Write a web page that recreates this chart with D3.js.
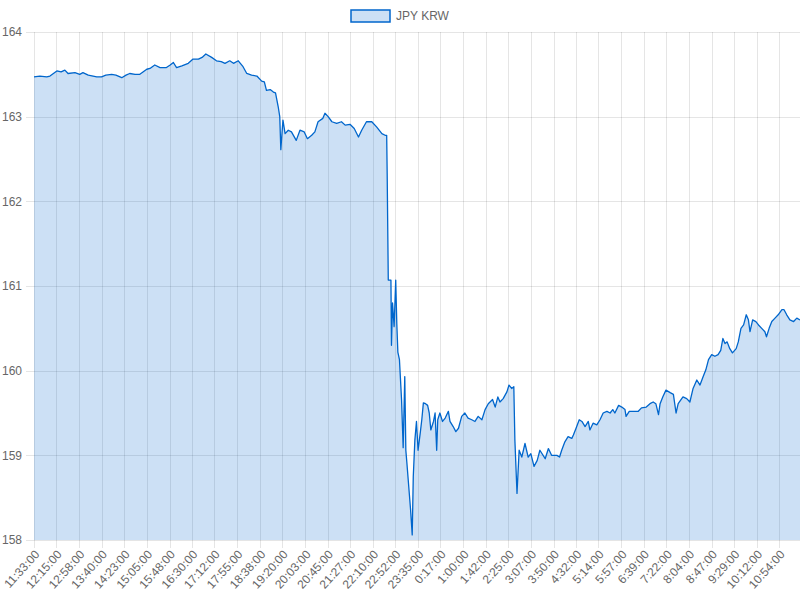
<!DOCTYPE html>
<html>
<head>
<meta charset="utf-8">
<script src="https://cdn.jsdelivr.net/npm/d3@7/dist/d3.min.js"></script>
<style>
  html, body { margin: 0; padding: 0; background: #fff; }
  svg { display: block; }
  text { font-family: Arial, "Liberation Sans", Helvetica, sans-serif; fill: #666; font-size: 12px; }
</style>
</head>
<body>
<svg id="chart" width="800" height="600"></svg>
<script>
// ---- data ----
const seriesName = "JPY KRW";
const startTime = "11:33:00";
// minutes elapsed since 11:33:00
const minutes = [0,11,24,30,43,51,58,64,77,86,92,102,118,127,135,146,154,165,173,180,190,199,212,218,227,237,249,256,262,268,278,290,299,309,316,323,334,343,352,359,368,375,384,393,400,409,419,428,433,437,444,450,454,459,462,464,468,472,478,484,493,500,508,514,522,528,534,543,547,553,560,569,578,585,594,602,610,616,625,635,644,654,660,663,664,666,671,672,674,677,680,682,684,687,691,694,697,699,701,706,708,711,713,716,719,722,726,729,732,736,740,743,746,751,754,757,759,763,768,773,779,782,788,793,798,804,810,816,823,829,835,842,848,854,862,867,872,876,882,889,893,898,902,904,908,912,917,923,929,934,940,946,951,961,967,973,983,988,992,998,1004,1011,1014,1019,1025,1030,1036,1042,1045,1051,1058,1064,1070,1077,1083,1088,1092,1099,1105,1111,1113,1119,1127,1136,1142,1151,1158,1164,1169,1174,1177,1182,1188,1196,1202,1207,1211,1220,1227,1233,1239,1246,1252,1258,1263,1268,1274,1280,1286,1291,1295,1299,1303,1308,1313,1320,1324,1329,1334,1339,1343,1346,1351,1357,1362,1368,1374,1377,1382,1387,1393,1399,1406,1410,1415,1421,1428,1434,1440];
const values = [163.47,163.48,163.47,163.48,163.54,163.53,163.55,163.51,163.52,163.50,163.52,163.49,163.47,163.47,163.49,163.50,163.49,163.46,163.49,163.51,163.50,163.50,163.56,163.57,163.61,163.58,163.58,163.61,163.64,163.58,163.60,163.63,163.68,163.68,163.70,163.74,163.70,163.66,163.65,163.63,163.66,163.63,163.66,163.59,163.51,163.49,163.48,163.42,163.41,163.31,163.32,163.29,163.28,163.12,163.00,162.61,162.96,162.80,162.84,162.82,162.72,162.84,162.82,162.74,162.78,162.82,162.94,162.98,163.04,163.00,162.94,162.92,162.94,162.90,162.91,162.86,162.76,162.84,162.94,162.94,162.88,162.80,162.78,162.78,162.29,161.07,161.07,160.30,160.80,160.52,161.07,160.56,160.22,160.13,159.65,159.09,159.93,159.06,158.91,158.51,158.35,158.06,158.75,159.18,159.40,159.06,159.26,159.42,159.62,159.61,159.59,159.50,159.30,159.40,159.50,159.06,159.42,159.50,159.40,159.44,159.52,159.40,159.34,159.28,159.32,159.46,159.50,159.44,159.42,159.40,159.46,159.42,159.54,159.61,159.66,159.57,159.69,159.63,159.67,159.75,159.83,159.79,159.81,159.18,158.55,159.06,158.98,159.14,158.98,159.02,158.87,158.94,159.06,158.96,159.08,159.00,159.00,158.98,159.06,159.16,159.22,159.20,159.24,159.32,159.42,159.40,159.34,159.40,159.30,159.38,159.36,159.42,159.50,159.52,159.50,159.54,159.50,159.59,159.57,159.54,159.46,159.52,159.52,159.52,159.56,159.57,159.61,159.63,159.61,159.48,159.61,159.69,159.77,159.74,159.72,159.50,159.61,159.69,159.67,159.63,159.79,159.89,159.83,159.93,160.01,160.13,160.19,160.17,160.19,160.24,160.38,160.32,160.34,160.26,160.21,160.26,160.34,160.50,160.54,160.66,160.60,160.46,160.60,160.58,160.54,160.50,160.46,160.40,160.50,160.58,160.62,160.66,160.72,160.72,160.66,160.60,160.58,160.62,160.60];
const xTickLabels = ["11:33:00","12:15:00","12:58:00","13:40:00","14:23:00","15:05:00","15:48:00","16:30:00","17:12:00","17:55:00","18:38:00","19:20:00","20:03:00","20:45:00","21:27:00","22:10:00","22:52:00","23:35:00","0:17:00","1:00:00","1:42:00","2:25:00","3:07:00","3:50:00","4:32:00","5:14:00","5:57:00","6:39:00","7:22:00","8:04:00","8:47:00","9:29:00","10:12:00","10:54:00"];
const yTicks = [158,159,160,161,162,163,164];
const totalMinutes = 1440;

// ---- layout ----
const W = 800, H = 600;
const m = { left: 34, right: 0, top: 32, bottom: 60 };
const lineColor = "#0066cc";

function toMin(s) {
  const p = s.split(":").map(Number);
  const a = startTime.split(":").map(Number);
  let d = (p[0] * 60 + p[1]) - (a[0] * 60 + a[1]);
  if (d < 0) d += 1440;
  return d;
}

const svg = d3.select("#chart");
const x = d3.scaleLinear().domain([0, totalMinutes]).range([m.left, W - m.right]);
const y = d3.scaleLinear().domain([158, 164]).range([H - m.bottom, m.top]);

const gridColor = "rgba(0,0,0,0.1)";

// grid
const gx = svg.append("g");
xTickLabels.forEach(l => {
  const px = Math.round(x(toMin(l))) + 0.5;
  gx.append("line").attr("x1", px).attr("x2", px).attr("y1", m.top).attr("y2", H - m.bottom + 8)
    .attr("stroke", gridColor).attr("stroke-width", 1);
});
const gy = svg.append("g");
yTicks.forEach(t => {
  const py = Math.round(y(t)) + 0.5;
  gy.append("line").attr("x1", m.left - 8).attr("x2", W - m.right).attr("y1", py).attr("y2", py)
    .attr("stroke", gridColor).attr("stroke-width", 1);
});

// data
const data = minutes.map((mm, i) => ({ m: mm, v: values[i] }));
const area = d3.area().x(d => x(d.m)).y0(y(158)).y1(d => y(d.v));
const line = d3.line().x(d => x(d.m)).y(d => y(d.v));

svg.append("path").datum(data).attr("d", area)
  .attr("fill", lineColor).attr("fill-opacity", 0.2);
svg.append("path").datum(data).attr("d", line)
  .attr("fill", "none").attr("stroke", lineColor).attr("stroke-width", 1.3).attr("stroke-linejoin", "round");

// y axis labels
yTicks.forEach(t => {
  svg.append("text").attr("x", 22).attr("y", y(t)).attr("dy", "0.35em")
    .attr("text-anchor", "end").text(t);
});

// x axis labels
xTickLabels.forEach(l => {
  const px = x(toMin(l));
  svg.append("text")
    .attr("transform", `translate(${px + 3},${H - m.bottom + 12}) rotate(-48)`)
    .attr("text-anchor", "end").attr("dy", "0.35em").text(l);
});

// legend
const lg = svg.append("g");
lg.append("rect").attr("x", 351).attr("y", 10).attr("width", 39).attr("height", 12)
  .attr("fill", lineColor).attr("fill-opacity", 0.2).attr("stroke", lineColor).attr("stroke-width", 1.5);
lg.append("text").attr("x", 396).attr("y", 16).attr("dy", "0.35em").text(seriesName);
</script>
</body>
</html>
